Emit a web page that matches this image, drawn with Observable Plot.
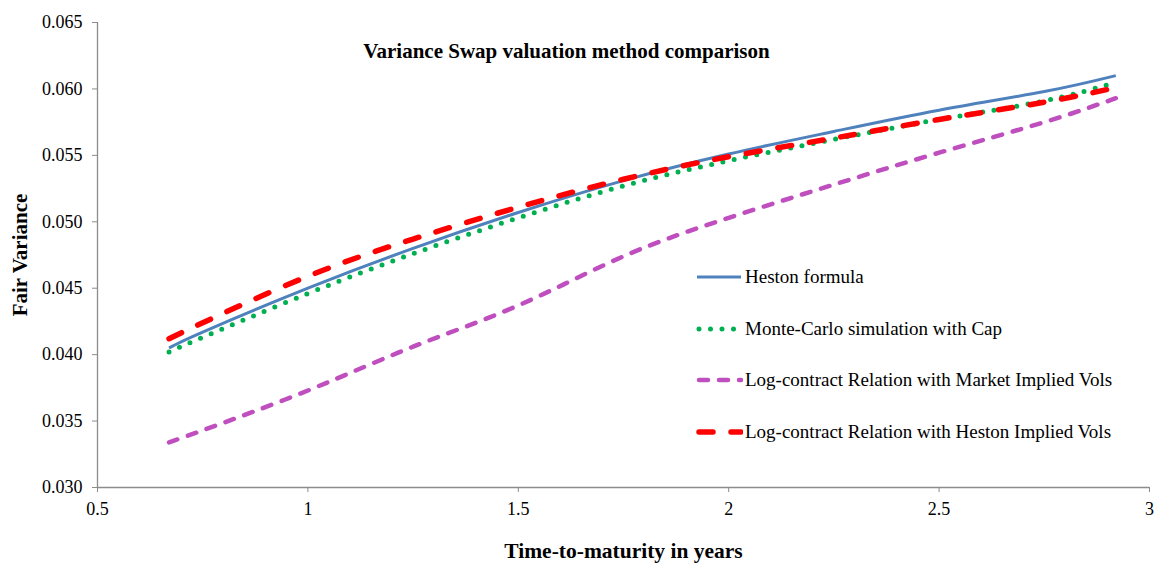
<!DOCTYPE html>
<html>
<head>
<meta charset="utf-8">
<script src="https://cdn.jsdelivr.net/npm/d3@7"></script>
<script src="https://cdn.jsdelivr.net/npm/@observablehq/plot@0.6"></script>
<style>
  html, body { margin: 0; padding: 0; background: #fff; }
  #wrap { position: relative; width: 1157px; height: 569px; font-family: "Liberation Serif", "Times New Roman", serif; }
  #legend { position: absolute; left: 696px; top: 0; }
  .row { position: absolute; left: 0; display: flex; align-items: center; white-space: nowrap; font-size: 19px; color: #000; height: 22px; }
  .row svg { display: block; margin-right: 2px; }
</style>
</head>
<body>
<div id="wrap"><div id="legend"></div></div>
<script>
// ---- data ----
const maturities = [0.67, 0.75, 1.0, 1.25, 1.5, 1.75, 2.0, 2.25, 2.5, 2.75, 2.92];
const hestonFormula = [0.0405, 0.0417, 0.0450, 0.0480, 0.0507, 0.0531, 0.0551, 0.0568, 0.0584, 0.0598, 0.0610];
const monteCarloCap = [0.0402, 0.0413, 0.0446, 0.0476, 0.0503, 0.0527, 0.0546, 0.0562, 0.0577, 0.0591, 0.0605];
const logMarketVols = [0.0334, 0.0343, 0.0373, 0.0406, 0.0437, 0.0474, 0.0503, 0.0528, 0.0552, 0.0575, 0.0593];
const logHestonVols = [0.0412, 0.0424, 0.0459, 0.0487, 0.0511, 0.0532, 0.0549, 0.0563, 0.0577, 0.0590, 0.0601];
const seriesNames = [
  "Heston formula",
  "Monte-Carlo simulation with Cap",
  "Log-contract Relation with Market Implied Vols",
  "Log-contract Relation with Heston Implied Vols"
];
const xTicks = [0.5, 1, 1.5, 2, 2.5, 3];
const yTicks = [0.030, 0.035, 0.040, 0.045, 0.050, 0.055, 0.060, 0.065];
const title = "Variance Swap valuation method comparison";
const xLabel = "Time-to-maturity in years";
const yLabel = "Fair Variance";

// ---- styles ----
const styles = [
  {stroke: "#4F81BD", strokeWidth: 3, dash: null, cap: "butt"},
  {stroke: "#00B050", strokeWidth: 5, dash: "0 11.5", cap: "round"},
  {stroke: "#BF4FBF", strokeWidth: 4.5, dash: "9 11", cap: "round"},
  {stroke: "#FF0000", strokeWidth: 5.5, dash: "14 18", cap: "round"}
];
const valueSets = [hestonFormula, monteCarloCap, logMarketVols, logHestonVols];

const lineMarks = valueSets.map((vals, i) => {
  const data = maturities.map((t, j) => ({t, v: vals[j]}));
  const s = styles[i];
  return Plot.line(data, {
    x: "t", y: "v", curve: "natural",
    stroke: s.stroke, strokeWidth: s.strokeWidth,
    strokeDasharray: s.dash || undefined, strokeLinecap: s.cap, strokeLinejoin: "round"
  });
});

const axisColor = "#8c8c8c";
const fam = "'Liberation Serif', 'Times New Roman', serif";
const plot = Plot.plot({
  width: 1157,
  height: 569,
  marginLeft: 97,
  marginRight: 8,
  marginTop: 22,
  marginBottom: 82,
  style: {fontFamily: fam, fontSize: "18px", color: "#000", background: "#fff"},
  x: {domain: [0.5, 3], ticks: xTicks, tickFormat: d => String(d)},
  y: {domain: [0.030, 0.065], ticks: yTicks, tickFormat: d3.format(".3f")},
  marks: [
    Plot.axisX({ticks: xTicks, tickFormat: d => String(d), tickSize: 5, tickPadding: 10, stroke: axisColor, fill: "#000", fontSize: 18, label: null}),
    Plot.axisY({ticks: yTicks, tickFormat: d3.format(".3f"), tickSize: 5, tickPadding: 10, stroke: axisColor, fill: "#000", fontSize: 18, label: null}),
    Plot.ruleX([0.5], {stroke: axisColor, strokeWidth: 1.3}),
    Plot.ruleY([0.030], {stroke: axisColor, strokeWidth: 1.3}),
    ...lineMarks,
    Plot.text([title], {frameAnchor: "top", dx: -57, dy: 21, fontSize: 21, fontWeight: "bold", fill: "#000", text: d => d}),
    Plot.text([xLabel], {frameAnchor: "bottom", dy: 70, fontSize: 21.5, fontWeight: "bold", fill: "#000", text: d => d}),
    Plot.text([yLabel], {frameAnchor: "left", textAnchor: "middle", dx: -77, dy: 0, rotate: -90, fontSize: 21, fontWeight: "bold", fill: "#000", text: d => d})
  ]
});
document.getElementById("wrap").prepend(plot);

// ---- legend (inside the plot area) ----
const legend = document.getElementById("legend");
const rowTops = [266, 318, 369, 421];
seriesNames.forEach((name, i) => {
  const s = styles[i];
  const row = document.createElement("div");
  row.className = "row";
  row.style.top = rowTops[i] + "px";
  const dash = s.dash ? `stroke-dasharray="${s.dash}"` : "";
  row.innerHTML = `<svg width="47" height="12"><line x1="${s.cap === "round" ? 3 : 1}" y1="6" x2="45" y2="6" stroke="${s.stroke}" stroke-width="${s.strokeWidth}" stroke-linecap="${s.cap}" ${dash}/></svg><span>${name}</span>`;
  legend.appendChild(row);
});
</script>
</body>
</html>
